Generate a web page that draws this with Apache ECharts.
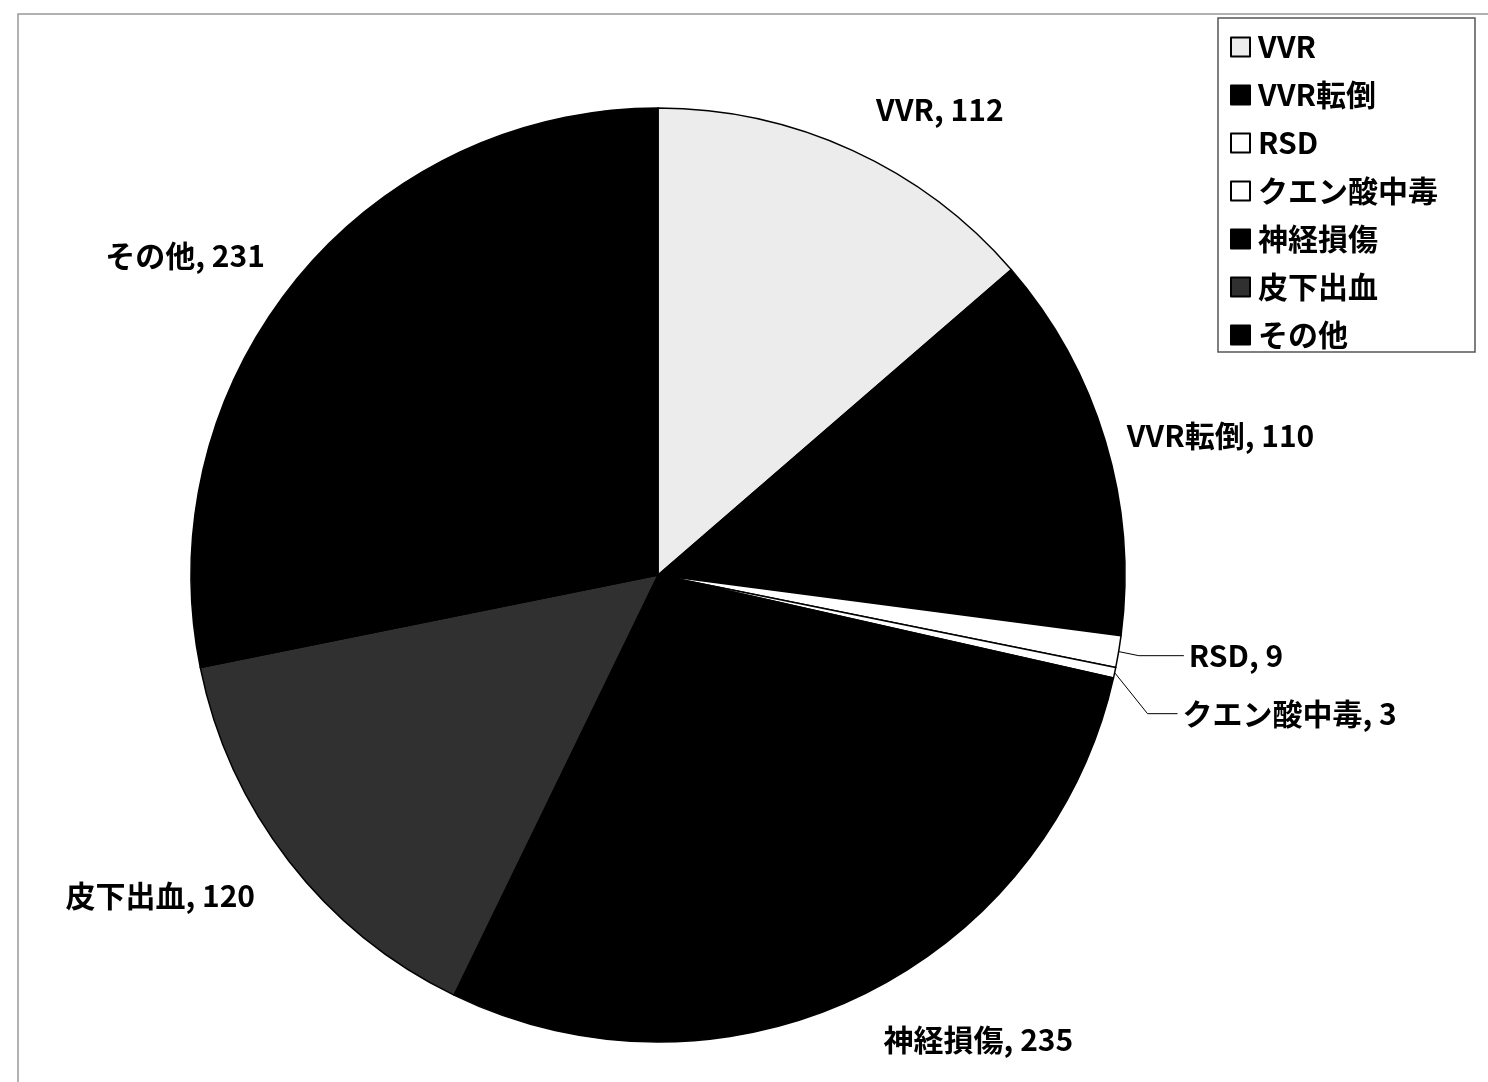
<!DOCTYPE html>
<html>
<head>
<meta charset="utf-8">
<script src="https://cdn.jsdelivr.net/npm/echarts@6/dist/echarts.min.js"></script>
<style>
html, body { margin: 0; padding: 0; background: #fff; }
#main { width: 1488px; height: 1082px; }
</style>
</head>
<body>
<div id="main"></div>
<script>
// 項目と件数
var categories = ['VVR', 'VVR転倒', 'RSD', 'クエン酸中毒', '神経損傷', '皮下出血', 'その他'];
var counts = [112, 110, 9, 3, 235, 120, 231];
var colors = ['#ececec', '#000000', '#ffffff', '#ffffff', '#000000', '#303030', '#000000'];

var myChart = echarts.init(document.getElementById('main'));
var font = '"Noto Sans CJK JP", "Noto Sans", sans-serif';

// ラベル線の長さ（小さい項目だけ線を出す）
var lineLen = [45, 20, 25, 40, 42, 30, 28];
var lineLen2 = [0, 0, 45, 30, 0, 5, 5];
var lineShow = [false, false, true, true, false, false, false];
var labelShiftY = [0, 0, 0, 26, 6, 16, -6];

var pieData = [];
for (var i = 0; i < categories.length; i++) {
	pieData.push({
		name: categories[i],
		value: counts[i],
		itemStyle: { color: colors[i] },
		labelLine: {
			show: lineShow[i],
			length: lineLen[i],
			length2: lineLen2[i]
		}
	});
}

var option = {
	backgroundColor: '#fff',
	animation: false,
	graphic: [{
		type: 'rect',
		shape: { x: 18, y: 14, width: 1500, height: 1100 },
		style: { fill: 'none', stroke: '#999', lineWidth: 1.5 }
	}, {
		type: 'rect',
		shape: { x: 1218, y: 18, width: 257, height: 334 },
		style: { fill: '#fff', stroke: '#555', lineWidth: 1.5 },
		z: 1
	}],
	legend: {
		orient: 'vertical',
		left: 1218,
		top: 18,
		padding: [14, 10, 10, 12],
		icon: 'rect',
		itemWidth: 19,
		itemHeight: 19,
		itemGap: 18,
		z: 5,
		textStyle: {
			fontFamily: font,
			fontWeight: 'bold',
			fontSize: 30,
			color: '#000',
			padding: [0, 0, 0, 3]
		},
		data: categories
	},
	series: [{
		type: 'pie',
		center: [658, 575],
		radius: 467,
		startAngle: 90,
		clockwise: true,
		avoidLabelOverlap: true,
		itemStyle: {
			borderColor: '#000',
			borderWidth: 1.5
		},
		label: {
			show: true,
			position: 'outside',
			formatter: '{b}, {c}',
			fontFamily: font,
			fontWeight: 'bold',
			fontSize: 30,
			color: '#000'
		},
		labelLine: {
			lineStyle: { color: '#000', width: 1 }
		},
		labelLayout: function (params) {
			var dy = labelShiftY[params.dataIndex];
			var res = { dy: dy };
			var pts = params.labelLinePoints;
			if (dy && pts && lineShow[params.dataIndex]) {
				// 線の折れ点から先をラベルに合わせて下げる
				res.labelLinePoints = [
					[pts[0][0], pts[0][1]],
					[pts[1][0], pts[1][1] + dy],
					[pts[2][0], pts[2][1] + dy]
				];
			}
			return res;
		},
		emphasis: { disabled: true },
		data: pieData
	}]
};

myChart.setOption(option);
</script>
</body>
</html>
